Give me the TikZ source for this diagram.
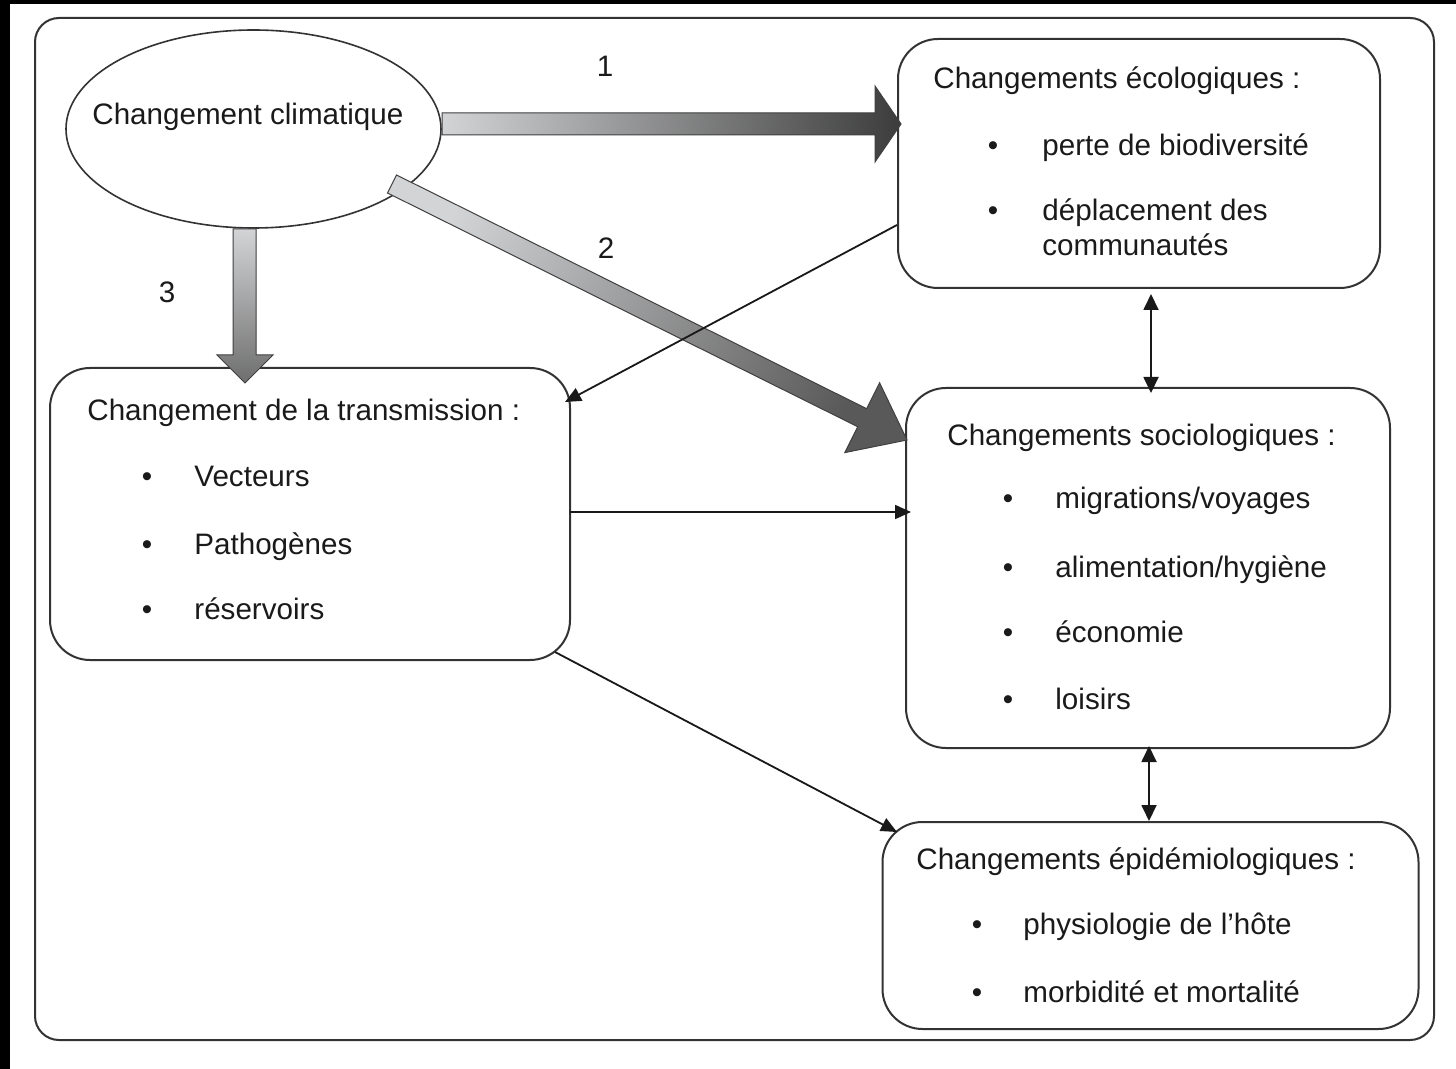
\documentclass[tikz,border=0pt]{standalone}
\usepackage{fontspec}
\setmainfont{Liberation Sans}
\usetikzlibrary{arrows.meta,shapes.geometric}
\definecolor{lightg}{HTML}{D3D4D6}
\definecolor{darkg}{HTML}{3C3C3C}
\definecolor{midg}{HTML}{6E6E6E}
\definecolor{txtc}{HTML}{1A1A1A}
\begin{document}
\begin{tikzpicture}[x=0.5pt,y=-0.5pt,
  box/.style={draw=black!80, line width=1pt, rounded corners=20pt, inner sep=0pt},
  ell/.style={draw=black!80, line width=0.8pt, ellipse, inner sep=0pt},
  txt/.style={anchor=base west, inner sep=0pt, font=\fontsize{14.8pt}{17pt}\selectfont, text=txtc},
  bul/.style={anchor=base, inner sep=0pt, font=\fontsize{14.8pt}{17pt}\selectfont, text=txtc},
  thinarrow/.style={draw=black!90, line width=0.9pt, -{Triangle[length=8pt,width=7pt]}},
  dblarrow/.style={draw=black!90, line width=0.9pt, {Triangle[length=8pt,width=7.5pt]}-{Triangle[length=8pt,width=7.5pt]}},
  bigarrow/.style={draw=black!75, line width=0.5pt}
]
\useasboundingbox (0,0) rectangle (1456,1069);
\fill[white] (0,0) rectangle (1456,1069);
\fill[black] (0,0) rectangle (1456,4);
\fill[black] (0,0) rectangle (10,1069);
\draw[black!80, line width=1pt, rounded corners=12pt] (35,18) rectangle (1434,1040);

% boxes
\node[box, minimum width=241pt, minimum height=124.5pt] (eco) at (1139,163.5) {};
\node[box, minimum width=242pt, minimum height=180pt] (socio) at (1148,568) {};
\node[box, minimum width=268pt, minimum height=103.5pt] (epi) at (1150.5,925.5) {};
\node[box, minimum width=260pt, minimum height=146pt] (trans) at (310,514) {};
\node[ell, minimum width=187.5pt, minimum height=99pt] (clim) at (253.5,129) {};

% thick arrows
\shadedraw[bigarrow, left color=lightg, right color=darkg]
  (442,113) -- (875,113) -- (875,86) -- (901,124) -- (875,162) -- (875,135) -- (442,135) -- cycle;
\shadedraw[bigarrow, top color=lightg, bottom color=darkg!85, shading angle=63.6]
  (396.5,175) -- (866.7,408.7) -- (879.6,382.8) -- (907,440) -- (844.8,452.6) -- (857.7,426.7) -- (387.5,193) -- cycle;
\shadedraw[bigarrow, top color=lightg, bottom color=midg]
  (233,229) -- (233,355) -- (217,355) -- (245,383) -- (273,355) -- (256,355) -- (256,229) -- cycle;

% thin connectors
\coordinate (e1) at (897,225);
\coordinate (t1) at (565,402);
\coordinate (t2) at (570,512);
\coordinate (s1) at (911,512);
\coordinate (t3) at (555,652);
\coordinate (p1) at (897,832);
\coordinate (e2) at (1151,294);
\coordinate (s2) at (1151,393);
\coordinate (s3) at (1149,746);
\coordinate (p2) at (1149,821);
\draw[thinarrow] (e1) -- (t1);
\draw[thinarrow] (t2) -- (s1);
\draw[thinarrow] (t3) -- (p1);
\draw[dblarrow] (e2) -- (s2);
\draw[dblarrow] (s3) -- (p2);

% labels
\node[txt] (lclim) at (92,125) {Changement climatique};
\node[bul] (n1) at (605,77) {1};
\node[bul] (n2) at (606,259) {2};
\node[bul] (n3) at (167,303) {3};

% eco
\node[txt] (eco0) at (933,89) {Changements écologiques :};
\node[bul] (eb1) at (993,156) {•};
\node[txt] (eco1) at (1042,156) {perte de biodiversité};
\node[bul] (eb2) at (993,221) {•};
\node[txt] (eco2) at (1042,221) {déplacement des};
\node[txt] (eco3) at (1042,256) {communautés};

% trans
\node[txt] (tr0) at (87,421) {Changement de la transmission :};
\node[bul] (tb1) at (147,487) {•};
\node[txt] (tr1) at (194,487) {Vecteurs};
\node[bul] (tb2) at (147,554) {•};
\node[txt] (tr2) at (194,554) {Pathogènes};
\node[bul] (tb3) at (147,619) {•};
\node[txt] (tr3) at (194,619) {réservoirs};

% socio
\node[txt] (so0) at (947,445) {Changements sociologiques :};
\node[bul] (sb1) at (1008,509) {•};
\node[txt] (so1) at (1055,509) {migrations/voyages};
\node[bul] (sb2) at (1008,577) {•};
\node[txt] (so2) at (1055,577) {alimentation/hygiène};
\node[bul] (sb3) at (1008,642) {•};
\node[txt] (so3) at (1055,642) {économie};
\node[bul] (sb4) at (1008,709) {•};
\node[txt] (so4) at (1055,709) {loisirs};

% epi
\node[txt] (ep0) at (916,869) {Changements épidémiologiques :};
\node[bul] (pb1) at (977,934) {•};
\node[txt] (ep1) at (1023,934) {physiologie de l’hôte};
\node[bul] (pb2) at (977,1002) {•};
\node[txt] (ep2) at (1023,1002) {morbidité et mortalité};
\end{tikzpicture}
\end{document}
